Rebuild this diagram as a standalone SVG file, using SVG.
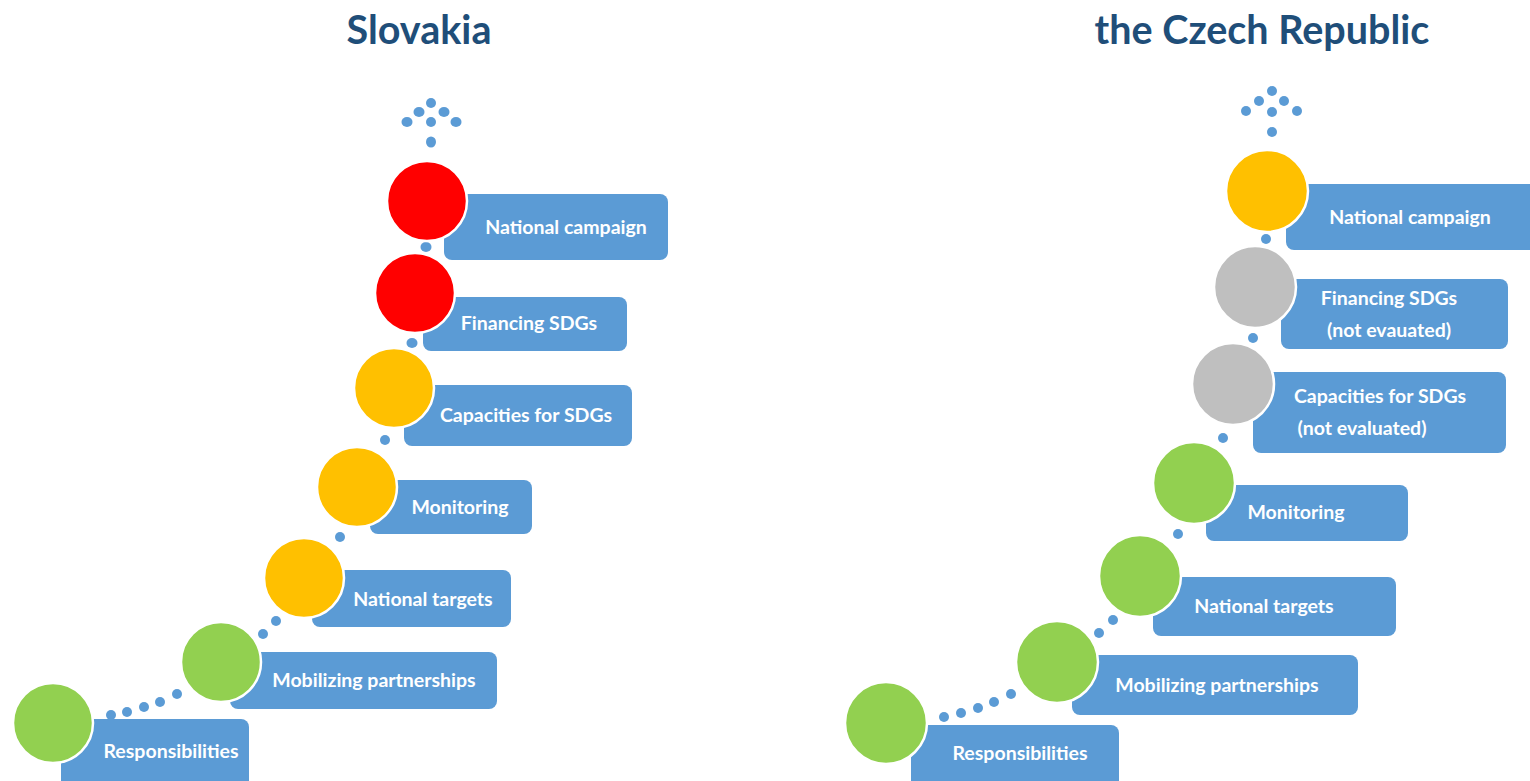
<svg xmlns="http://www.w3.org/2000/svg" width="1530" height="781" viewBox="0 0 1530 781">
<style>
.title{font-family:Lato,"Open Sans",sans-serif;font-weight:bold;font-size:39.5px;fill:#1F4E79;text-anchor:middle}
.box{fill:#5B9BD5}
.lbl{font-family:Lato,"Open Sans",sans-serif;font-weight:bold;font-size:19.5px;fill:#FFFFFF;text-anchor:middle}
.c{stroke:#FFFFFF;stroke-width:2.5}
.red{fill:#FF0000}.yel{fill:#FFC000}.grn{fill:#92D050}.gry{fill:#BFBFBF}
.dot{fill:#5B9BD5}
</style>
<rect width="1530" height="781" fill="#FFFFFF"/>
<text class="title" x="419" y="44">Slovakia</text>
<text class="title" x="1262" y="44">the Czech Republic</text>

<g id="connectors">
  <g id="sk-dots">
    <ellipse class="dot" cx="431" cy="103" rx="5" ry="5"/>
    <ellipse class="dot" cx="419" cy="112" rx="5.5" ry="5"/>
    <ellipse class="dot" cx="444" cy="112" rx="5.5" ry="5"/>
    <ellipse class="dot" cx="407" cy="122" rx="5.5" ry="5"/>
    <ellipse class="dot" cx="431" cy="122" rx="5" ry="5"/>
    <ellipse class="dot" cx="456" cy="122" rx="5.5" ry="5"/>
    <ellipse class="dot" cx="431" cy="142" rx="5" ry="5.5"/>
    <ellipse class="dot" cx="426" cy="247" rx="5.5" ry="5"/>
    <ellipse class="dot" cx="412" cy="343" rx="5.5" ry="5"/>
    <ellipse class="dot" cx="385" cy="440" rx="5" ry="5"/>
    <ellipse class="dot" cx="340" cy="537" rx="5" ry="5"/>
    <ellipse class="dot" cx="276" cy="621" rx="5" ry="5"/>
    <ellipse class="dot" cx="263" cy="634" rx="5" ry="5"/>
    <ellipse class="dot" cx="177" cy="694" rx="5" ry="5"/>
    <ellipse class="dot" cx="160" cy="702" rx="5" ry="5"/>
    <ellipse class="dot" cx="144" cy="707" rx="5" ry="5"/>
    <ellipse class="dot" cx="127" cy="712" rx="5" ry="5"/>
    <ellipse class="dot" cx="111" cy="715" rx="5" ry="5"/>
  </g>
  <g id="cz-dots">
    <circle class="dot" cx="1272" cy="91" r="5"/>
    <circle class="dot" cx="1259" cy="101" r="5"/>
    <circle class="dot" cx="1284" cy="101" r="5"/>
    <circle class="dot" cx="1246" cy="111" r="5"/>
    <circle class="dot" cx="1272" cy="112" r="5"/>
    <circle class="dot" cx="1297" cy="111" r="5"/>
    <circle class="dot" cx="1272" cy="132" r="5"/>
    <circle class="dot" cx="1266" cy="239" r="5"/>
    <circle class="dot" cx="1253" cy="338" r="5"/>
    <circle class="dot" cx="1223" cy="438" r="5"/>
    <circle class="dot" cx="1178" cy="534" r="5"/>
    <circle class="dot" cx="1113" cy="620" r="5"/>
    <circle class="dot" cx="1099" cy="633" r="5"/>
    <circle class="dot" cx="1011" cy="694" r="5"/>
    <circle class="dot" cx="994" cy="702" r="5"/>
    <circle class="dot" cx="978" cy="708" r="5"/>
    <circle class="dot" cx="961" cy="713" r="5"/>
    <circle class="dot" cx="944" cy="717" r="5"/>
  </g>
</g>

<!-- Slovakia -->
<g id="sk-campaign">
  <rect class="box" x="444" y="194" width="224" height="66" rx="8"/>
  <circle class="c red" cx="427" cy="201" r="40"/>
  <text class="lbl" x="566" y="234">National campaign</text>
</g>
<g id="sk-financing">
  <rect class="box" x="423" y="297" width="204" height="54" rx="8"/>
  <circle class="c red" cx="415" cy="293" r="40"/>
  <text class="lbl" x="529" y="330">Financing SDGs</text>
</g>
<g id="sk-capacities">
  <rect class="box" x="404" y="385" width="228" height="61" rx="8"/>
  <circle class="c yel" cx="394" cy="388" r="40"/>
  <text class="lbl" x="526" y="422">Capacities for SDGs</text>
</g>
<g id="sk-monitoring">
  <rect class="box" x="370" y="480" width="162" height="54" rx="8"/>
  <circle class="c yel" cx="357" cy="487" r="40"/>
  <text class="lbl" x="460" y="514">Monitoring</text>
</g>
<g id="sk-targets">
  <rect class="box" x="312" y="570" width="199" height="57" rx="8"/>
  <circle class="c yel" cx="304" cy="578" r="40"/>
  <text class="lbl" x="423" y="606">National targets</text>
</g>
<g id="sk-partnerships">
  <rect class="box" x="230" y="652" width="267" height="57" rx="8"/>
  <circle class="c grn" cx="221" cy="662" r="40"/>
  <text class="lbl" x="374" y="687">Mobilizing partnerships</text>
</g>
<g id="sk-responsibilities">
  <rect class="box" x="61" y="719" width="188" height="75" rx="8"/>
  <circle class="c grn" cx="53" cy="723" r="40"/>
  <text class="lbl" x="171" y="758">Responsibilities</text>
</g>

<!-- Czech Republic -->
<g id="cz-campaign">
  <rect class="box" x="1286" y="184" width="260" height="66" rx="8"/>
  <circle class="c yel" cx="1267" cy="191" r="41"/>
  <text class="lbl" x="1410" y="224">National campaign</text>
</g>
<g id="cz-financing">
  <rect class="box" x="1281" y="279" width="227" height="70" rx="8"/>
  <circle class="c gry" cx="1255" cy="287" r="41"/>
  <text class="lbl" x="1389" y="305">Financing SDGs</text>
  <text class="lbl" x="1389" y="337">(not evauated)</text>
</g>
<g id="cz-capacities">
  <rect class="box" x="1253" y="372" width="253" height="81" rx="8"/>
  <circle class="c gry" cx="1233" cy="384" r="41"/>
  <text class="lbl" x="1380" y="403">Capacities for SDGs</text>
  <text class="lbl" x="1362" y="435">(not evaluated)</text>
</g>
<g id="cz-monitoring">
  <rect class="box" x="1206" y="485" width="202" height="56" rx="8"/>
  <circle class="c grn" cx="1194" cy="483" r="41"/>
  <text class="lbl" x="1296" y="519">Monitoring</text>
</g>
<g id="cz-targets">
  <rect class="box" x="1153" y="577" width="243" height="59" rx="8"/>
  <circle class="c grn" cx="1140" cy="576" r="41"/>
  <text class="lbl" x="1264" y="613">National targets</text>
</g>
<g id="cz-partnerships">
  <rect class="box" x="1072" y="655" width="286" height="60" rx="8"/>
  <circle class="c grn" cx="1057" cy="662" r="41"/>
  <text class="lbl" x="1217" y="692">Mobilizing partnerships</text>
</g>
<g id="cz-responsibilities">
  <rect class="box" x="911" y="725" width="208" height="70" rx="8"/>
  <circle class="c grn" cx="886" cy="723" r="41"/>
  <text class="lbl" x="1020" y="760">Responsibilities</text>
</g>
</svg>
